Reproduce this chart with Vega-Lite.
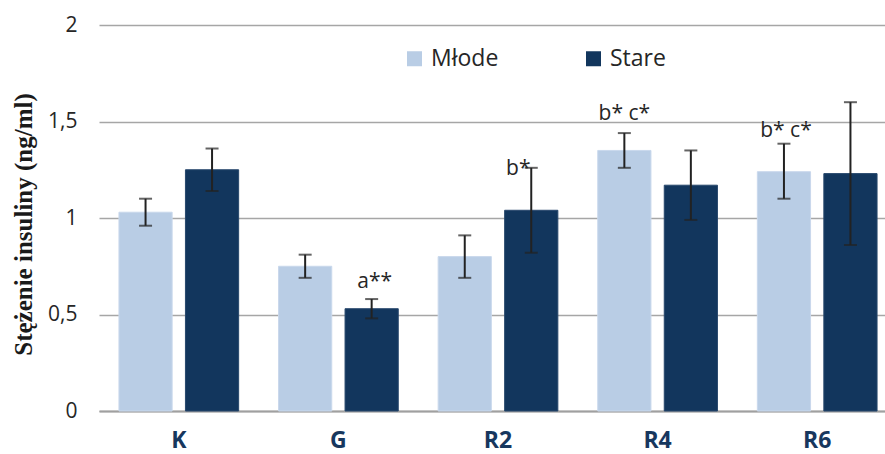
{
  "$schema": "https://vega.github.io/schema/vega-lite/v6.json",
  "autosize": {"type": "none"},
  "width": 781,
  "height": 386,
  "padding": {"left": 99, "top": 25, "right": 5, "bottom": 43},
  "background": "white",
  "config": {
    "view": {"stroke": null},
    "font": "Open Sans"
  },
  "data": {
    "values": [
      {"group": "K", "series": "Młode", "value": 1.03, "lo": 0.96, "hi": 1.10, "note": ""},
      {"group": "K", "series": "Stare", "value": 1.25, "lo": 1.14, "hi": 1.36, "note": ""},
      {"group": "G", "series": "Młode", "value": 0.75, "lo": 0.69, "hi": 0.81, "note": ""},
      {"group": "G", "series": "Stare", "value": 0.53, "lo": 0.48, "hi": 0.58, "note": "a**"},
      {"group": "R2", "series": "Młode", "value": 0.80, "lo": 0.69, "hi": 0.91, "note": ""},
      {"group": "R2", "series": "Stare", "value": 1.04, "lo": 0.82, "hi": 1.26, "note": "b*"},
      {"group": "R4", "series": "Młode", "value": 1.35, "lo": 1.26, "hi": 1.44, "note": "b* c*"},
      {"group": "R4", "series": "Stare", "value": 1.17, "lo": 0.99, "hi": 1.35, "note": ""},
      {"group": "R6", "series": "Młode", "value": 1.24, "lo": 1.10, "hi": 1.385, "note": "b* c*"},
      {"group": "R6", "series": "Stare", "value": 1.23, "lo": 0.86, "hi": 1.60, "note": ""}
    ]
  },
  "encoding": {
    "x": {
      "field": "group",
      "type": "nominal",
      "sort": ["K", "G", "R2", "R4", "R6"],
      "scale": {"range": [0, 798], "paddingInner": 0.25, "paddingOuter": 0.125},
      "axis": {
        "title": null,
        "labelAngle": 0,
        "labelFont": "Open Sans",
        "labelFontWeight": "bold",
        "labelFontSize": 23,
        "labelColor": "#17375e",
        "labelPadding": 18,
        "labelBaseline": "top",
        "ticks": false,
        "domain": true,
        "domainColor": "#a0a0a0",
        "domainWidth": 2
      }
    },
    "xOffset": {
      "field": "series",
      "type": "nominal",
      "sort": ["Młode", "Stare"],
      "scale": {"paddingInner": 0.2, "paddingOuter": 0}
    }
  },
  "layer": [
    {
      "mark": {"type": "bar", "strokeWidth": 1},
      "encoding": {
        "y": {
          "field": "value",
          "type": "quantitative",
          "scale": {"domain": [0, 2], "nice": false},
          "axis": {
            "values": [0, 0.5, 1, 1.5, 2],
            "labelExpr": "replace(format(datum.value, '~g'), '.', ',')",
            "labelFont": "Open Sans",
            "labelFontSize": 21,
            "labelColor": "#262626",
            "labelPadding": 22,
            "ticks": false,
            "domain": false,
            "grid": true,
            "gridColor": "#a6a6a6",
            "gridWidth": 1.5,
            "title": "Stężenie insuliny (ng/ml)",
            "titleFont": "Liberation Serif",
            "titleFontSize": 25,
            "titleFontWeight": "bold",
            "titleColor": "#1a1a1a",
            "titleBaseline": "alphabetic",
            "titleX": -68,
            "titleY": 199
          }
        },
        "color": {
          "field": "series",
          "type": "nominal",
          "sort": ["Młode", "Stare"],
          "scale": {"domain": ["Młode", "Stare"], "range": ["#b9cde5", "#12365d"]},
          "legend": {
            "title": null,
            "orient": "none",
            "direction": "horizontal",
            "legendX": 304,
            "legendY": 22,
            "padding": 0,
            "symbolType": "square",
            "symbolSize": 225,
            "symbolStrokeWidth": 0,
            "labelFont": "Open Sans",
            "labelFontSize": 23,
            "labelColor": "#262626",
            "labelOffset": 5,
            "columnPadding": 83
          }
        },
        "stroke": {
          "field": "series",
          "type": "nominal",
          "scale": {"domain": ["Młode", "Stare"], "range": ["#c9d8ec", "#27476c"]},
          "legend": null
        }
      }
    },
    {
      "mark": {"type": "rule", "color": "#222222", "strokeWidth": 2},
      "encoding": {
        "y": {"field": "lo", "type": "quantitative"},
        "y2": {"field": "hi"}
      }
    },
    {
      "mark": {"type": "tick", "color": "#222222", "thickness": 2, "size": 13},
      "encoding": {
        "y": {"field": "lo", "type": "quantitative"}
      }
    },
    {
      "mark": {"type": "tick", "color": "#222222", "thickness": 2, "size": 13},
      "encoding": {
        "y": {"field": "hi", "type": "quantitative"}
      }
    },
    {
      "transform": [{"filter": "datum.note == 'a**'"}],
      "mark": {"type": "text", "fontSize": 21, "font": "Open Sans", "color": "#262626", "baseline": "alphabetic", "dy": -11, "dx": 3},
      "encoding": {
        "y": {"field": "hi", "type": "quantitative"},
        "text": {"field": "note"}
      }
    },
    {
      "transform": [{"filter": "datum.note == 'b*'"}],
      "mark": {"type": "text", "fontSize": 21, "font": "Open Sans", "color": "#262626", "baseline": "alphabetic", "dy": 7, "dx": -13},
      "encoding": {
        "y": {"field": "hi", "type": "quantitative"},
        "text": {"field": "note"}
      }
    },
    {
      "transform": [{"filter": "datum.note == 'b* c*' && datum.group == 'R4'"}],
      "mark": {"type": "text", "fontSize": 21, "font": "Open Sans", "color": "#262626", "baseline": "alphabetic", "dy": -13},
      "encoding": {
        "y": {"field": "hi", "type": "quantitative"},
        "text": {"field": "note"}
      }
    },
    {
      "transform": [{"filter": "datum.note == 'b* c*' && datum.group == 'R6'"}],
      "mark": {"type": "text", "fontSize": 21, "font": "Open Sans", "color": "#262626", "baseline": "alphabetic", "dy": -7, "dx": 2},
      "encoding": {
        "y": {"field": "hi", "type": "quantitative"},
        "text": {"field": "note"}
      }
    }
  ]
}
